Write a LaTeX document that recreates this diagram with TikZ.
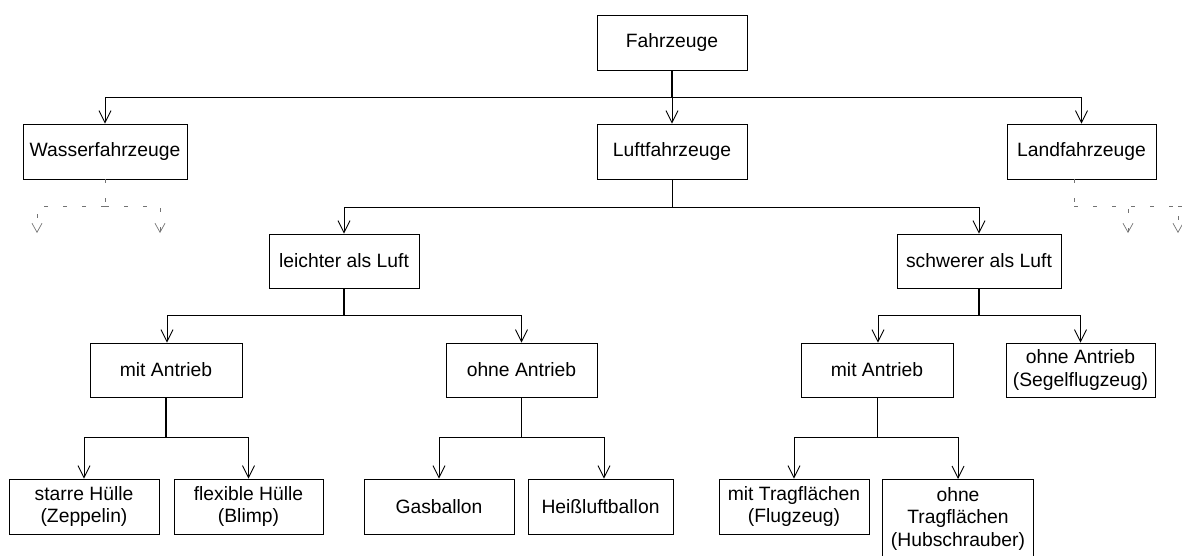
\documentclass[tikz,border=0pt]{standalone}
\usepackage{fontspec}
\setmainfont{Liberation Sans}
\usetikzlibrary{arrows.meta}
\begin{document}
\begin{tikzpicture}[x=1pt,y=-1pt,
  box/.style={draw, line width=0.9pt, inner sep=0pt, minimum width=150pt, minimum height=55pt,
    align=center, font=\fontsize{19.3}{22.5}\selectfont},
  boxline/.style={line width=0.9pt},
  edge/.style={line width=0.9pt, -{Straight Barb[length=12pt,width=12pt,line width=0.9pt]}},
  stem/.style={line width=0.9pt},
  thickstem/.style={line width=1.8pt},
  ghost/.style={draw=black!55, line width=0.8pt, dash pattern=on 4pt off 15pt},
  ghostedge/.style={ghost, -{Straight Barb[length=9pt,width=10pt,line width=0.7pt]}},
]
\useasboundingbox (0,0) rectangle (1182,556);

% level 0 and 1
\node[box] (fz) at (672,42.5) {Fahrzeuge};
\node[box, minimum width=164pt] (wa) at (105,151.5) {Wasserfahrzeuge};
\node[box] (lu) at (672,151.5) {Luftfahrzeuge};
\node[box, minimum width=149pt] (la) at (1081.5,151.5) {Landfahrzeuge};

% level 2
\node[box, minimum height=54pt] (le) at (344,261) {leichter als Luft};
\node[box, minimum width=164pt, minimum height=54pt] (sw) at (979,261) {schwerer als Luft};

% level 3
\node[box, minimum width=152pt, minimum height=54pt] (lma) at (166,370) {mit Antrieb};
\node[box, minimum width=151pt, minimum height=54pt] (loa) at (521.5,370) {ohne Antrieb};
\node[box, minimum width=152pt, minimum height=54pt] (sma) at (877,370) {mit Antrieb};
\node[box, minimum width=149pt, minimum height=54pt] (soa) at (1080.5,370) {ohne Antrieb\\(Segelflugzeug)};

% level 4
\node[box] (st) at (84,506.5) {starre Hülle\\(Zeppelin)};
\node[box, minimum width=149pt] (fl) at (248.5,506.5) {flexible Hülle\\(Blimp)};
\node[box] (gb) at (439,506.5) {Gasballon};
\node[box, minimum width=145pt] (hb) at (600.5,506.5) {Heißluftballon};
\node[box] (mt) at (794,506.5) {mit Tragflächen\\(Flugzeug)};
% this box runs past the lower edge, so only three sides are drawn
\node[box, draw=none, minimum height=79pt, anchor=north] (ot) at (958,479) {ohne\\Tragflächen\\(Hubschrauber)};
\draw[boxline] (ot.south west) |- (ot.north east) -- (ot.south east);

% bar heights
\coordinate (b0) at (0,97);
\coordinate (b1) at (0,207);
\coordinate (b2) at (0,315);
\coordinate (b3) at (0,437);
\coordinate (bg) at (0,206);

% Fahrzeuge
\draw[thickstem] (fz.south) -- (fz.south |- b0);
\draw[edge] (fz.south |- b0) -| (wa.north);
\draw[edge] (fz.south |- b0) -- (lu.north);
\draw[edge] (fz.south |- b0) -| (la.north);

% Luftfahrzeuge
\draw[stem] (lu.south) -- (lu.south |- b1);
\draw[edge] (lu.south |- b1) -| (le.north);
\draw[edge] (lu.south |- b1) -| (sw.north);

% leichter als Luft
\draw[thickstem] (le.south) -- (le.south |- b2);
\draw[edge] (le.south |- b2) -| ([xshift=1pt]lma.north);
\draw[edge] (le.south |- b2) -| (loa.north);

% schwerer als Luft
\draw[line width=1.3pt] (sw.south) -- (sw.south |- b2);
\draw[edge] (sw.south |- b2) -| ([xshift=1pt]sma.north);
\draw[edge] (sw.south |- b2) -| (soa.north);

% mit Antrieb (leichter)
\draw[thickstem] (lma.south) -- (lma.south |- b3);
\draw[edge] (lma.south |- b3) -| (st.north);
\draw[edge] (lma.south |- b3) -| (fl.north);

% ohne Antrieb (leichter)
\draw[stem] (loa.south) -- (loa.south |- b3);
\draw[edge] (loa.south |- b3) -| (gb.north);
\draw[edge] (loa.south |- b3) -| ([xshift=3.5pt]hb.north);

% mit Antrieb (schwerer)
\draw[stem] (sma.south) -- (sma.south |- b3);
\draw[edge] (sma.south |- b3) -| (mt.north);
\draw[edge] (sma.south |- b3) -| (ot.north);

% faded branches below Wasserfahrzeuge
\coordinate (wl) at (37,233);
\coordinate (wr) at (160,233);
\draw[ghost] (wa.south) -- (wa.south |- bg);
\draw[ghostedge] (wa.south |- bg) -| (wl);
\draw[ghostedge] (wa.south |- bg) -| (wr);

% faded branches below Landfahrzeuge
\coordinate (ls) at ([xshift=-7.5pt]la.south);
\coordinate (ll) at (1128,233);
\coordinate (lr) at (1178,233);
\coordinate (le2) at (1182,206);
\draw[ghost] (ls) -- (ls |- bg);
\draw[ghostedge] (ls |- bg) -| (ll);
\draw[ghostedge] (ls |- bg) -| (lr);
\draw[ghost] (lr |- bg) -- (le2);
\end{tikzpicture}
\end{document}
